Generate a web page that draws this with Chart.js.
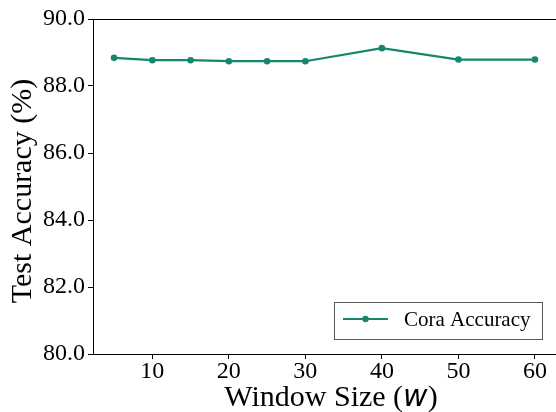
<!DOCTYPE html>
<html>
<head>
<meta charset="utf-8">
<script src="https://cdn.jsdelivr.net/npm/chart.js@4/dist/chart.umd.min.js"></script>
<style>
  html, body { margin: 0; padding: 0; background: #fff; overflow: hidden; }
  #wrap { width: 556px; height: 412px; overflow: hidden; }
</style>
</head>
<body>
<div id="wrap"><canvas id="acc" width="560" height="412"></canvas></div>
<script>
const windowSizes = [5, 10, 15, 20, 25, 30, 40, 50, 60];
const coraAccuracy = [88.84, 88.77, 88.77, 88.74, 88.74, 88.74, 89.13, 88.79, 88.79];
const xTicks = [10, 20, 30, 40, 50, 60];
const yTicks = [80, 82, 84, 86, 88, 90];

const green = '#14876d';
const serif = "'Liberation Serif', serif";
Chart.defaults.font.family = serif;

// top + right spines, axis titles and the legend box (matplotlib style)
const extras = {
  id: 'extras',
  afterDraw(chart) {
    const ctx = chart.ctx;
    const a = chart.chartArea;
    ctx.save();
    ctx.strokeStyle = '#000';
    ctx.lineWidth = 1;
    ctx.strokeRect(Math.round(a.left) + 0.5, Math.round(a.top) + 0.5,
      Math.round(a.right - a.left), Math.round(a.bottom - a.top));

    // x title with italic w
    ctx.fillStyle = '#000';
    ctx.textBaseline = 'alphabetic';
    const p1 = 'Window Size (', p3 = ')';
    const fSerif = '30px ' + serif;
    const fMath = "italic 30px 'DejaVu Sans'";
    ctx.font = fSerif;
    const w1 = ctx.measureText(p1).width, w3 = ctx.measureText(p3).width;
    ctx.font = fMath;
    const w2 = ctx.measureText('w').width;
    let x = 331 - (w1 + w2 + w3) / 2;
    const by = 406;
    ctx.font = fSerif; ctx.textAlign = 'left';
    ctx.fillText(p1, x, by); x += w1;
    ctx.font = fMath; ctx.fillText('w', x, by); x += w2;
    ctx.font = fSerif; ctx.fillText(p3, x, by);

    // y title
    ctx.save();
    ctx.translate(23, 191);
    ctx.rotate(-Math.PI / 2);
    ctx.font = fSerif;
    ctx.textAlign = 'center';
    ctx.textBaseline = 'middle';
    ctx.fillText('Test Accuracy (%)', 0, 0);
    ctx.restore();

    // legend
    const ds = chart.data.datasets[0];
    ctx.fillStyle = '#fff';
    ctx.fillRect(334, 302, 208, 37);
    ctx.strokeStyle = '#5a5a5a';
    ctx.lineWidth = 1;
    ctx.strokeRect(334.5, 302.5, 208, 37);
    ctx.strokeStyle = ds.borderColor;
    ctx.lineWidth = 2.2;
    ctx.beginPath(); ctx.moveTo(343, 319); ctx.lineTo(388, 319); ctx.stroke();
    ctx.fillStyle = ds.borderColor;
    ctx.beginPath(); ctx.arc(365.5, 319, 3.2, 0, Math.PI * 2); ctx.fill();
    ctx.fillStyle = '#000';
    ctx.font = '21px ' + serif;
    ctx.textAlign = 'left';
    ctx.textBaseline = 'middle';
    ctx.fillText(ds.label, 404, 320);
    ctx.restore();
  }
};

new Chart(document.getElementById('acc').getContext('2d'), {
  type: 'line',
  data: {
    labels: windowSizes,
    datasets: [{
      label: 'Cora Accuracy',
      data: windowSizes.map((w, i) => ({ x: w, y: coraAccuracy[i] })),
      borderColor: green,
      backgroundColor: green,
      pointBackgroundColor: green,
      pointBorderColor: green,
      borderWidth: 2.2,
      pointRadius: 3.3,
      pointBorderWidth: 0,
      tension: 0,
      fill: false
    }]
  },
  options: {
    responsive: false,
    animation: false,
    layout: { padding: { top: 19, right: 3, left: 0, bottom: 0 } },
    plugins: { legend: { display: false }, tooltip: { enabled: false } },
    scales: {
      x: {
        type: 'linear',
        min: 2.25,
        max: 62.75,
        afterBuildTicks: (s) => { s.ticks = xTicks.map(v => ({ value: v })); },
        afterFit: (s) => { s.height = 58; },
        grid: { drawOnChartArea: false, tickLength: 5, color: '#000' },
        border: { color: '#000', width: 1 },
        ticks: { color: '#000', padding: -2, maxRotation: 0, font: { family: serif, size: 24 } }
      },
      y: {
        min: 80,
        max: 90,
        afterBuildTicks: (s) => { s.ticks = yTicks.map(v => ({ value: v })); },
        afterFit: (s) => { s.width = 93; },
        grid: { drawOnChartArea: false, tickLength: 5, color: '#000' },
        border: { color: '#000', width: 1 },
        ticks: { color: '#000', padding: 3, font: { family: serif, size: 24 },
          callback: (v) => Number(v).toFixed(1) }
      }
    }
  },
  plugins: [extras]
});
</script>
</body>
</html>
